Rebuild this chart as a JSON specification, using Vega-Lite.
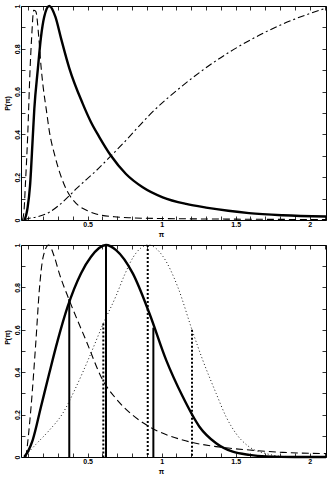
{
  "$schema": "https://vega.github.io/schema/vega-lite/v6.json",
  "padding": {"left": 2, "top": 0, "right": 3, "bottom": 0},
  "background": "white",
  "datasets": {
    "top": [
      {"s": "a", "x": 0.07, "v": 0.0}, {"s": "a", "x": 0.079, "v": 0.01}, {"s": "a", "x": 0.095, "v": 0.06}, {"s": "a", "x": 0.111, "v": 0.16}, {"s": "a", "x": 0.129, "v": 0.38}, {"s": "a", "x": 0.14, "v": 0.52}, {"s": "a", "x": 0.163, "v": 0.70}, {"s": "a", "x": 0.185, "v": 0.855}, {"s": "a", "x": 0.207, "v": 0.95}, {"s": "a", "x": 0.241, "v": 1.0}, {"s": "a", "x": 0.282, "v": 0.95}, {"s": "a", "x": 0.32, "v": 0.85}, {"s": "a", "x": 0.376, "v": 0.71}, {"s": "a", "x": 0.466, "v": 0.545}, {"s": "a", "x": 0.523, "v": 0.457}, {"s": "a", "x": 0.577, "v": 0.39}, {"s": "a", "x": 0.658, "v": 0.30}, {"s": "a", "x": 0.759, "v": 0.215}, {"s": "a", "x": 0.872, "v": 0.153}, {"s": "a", "x": 1.007, "v": 0.106}, {"s": "a", "x": 1.165, "v": 0.075}, {"s": "a", "x": 1.3, "v": 0.058}, {"s": "a", "x": 1.45, "v": 0.043}, {"s": "a", "x": 1.59, "v": 0.032}, {"s": "a", "x": 1.818, "v": 0.022}, {"s": "a", "x": 2.11, "v": 0.016},
      {"s": "b", "x": 0.06, "v": 0.0}, {"s": "b", "x": 0.07, "v": 0.04}, {"s": "b", "x": 0.08, "v": 0.17}, {"s": "b", "x": 0.095, "v": 0.39}, {"s": "b", "x": 0.111, "v": 0.70}, {"s": "b", "x": 0.122, "v": 0.855}, {"s": "b", "x": 0.136, "v": 0.98}, {"s": "b", "x": 0.15, "v": 0.975}, {"s": "b", "x": 0.17, "v": 0.855}, {"s": "b", "x": 0.185, "v": 0.72}, {"s": "b", "x": 0.2, "v": 0.62}, {"s": "b", "x": 0.219, "v": 0.525}, {"s": "b", "x": 0.245, "v": 0.40}, {"s": "b", "x": 0.275, "v": 0.31}, {"s": "b", "x": 0.31, "v": 0.225}, {"s": "b", "x": 0.345, "v": 0.16}, {"s": "b", "x": 0.376, "v": 0.118}, {"s": "b", "x": 0.422, "v": 0.078}, {"s": "b", "x": 0.511, "v": 0.04}, {"s": "b", "x": 0.557, "v": 0.028}, {"s": "b", "x": 0.68, "v": 0.015}, {"s": "b", "x": 0.8, "v": 0.01}, {"s": "b", "x": 1.0, "v": 0.007}, {"s": "b", "x": 1.5, "v": 0.004}, {"s": "b", "x": 2.11, "v": 0.002},
      {"s": "c", "x": 0.07, "v": 0.0}, {"s": "c", "x": 0.084, "v": 0.004}, {"s": "c", "x": 0.16, "v": 0.015}, {"s": "c", "x": 0.241, "v": 0.036}, {"s": "c", "x": 0.3, "v": 0.065}, {"s": "c", "x": 0.376, "v": 0.113}, {"s": "c", "x": 0.422, "v": 0.145}, {"s": "c", "x": 0.557, "v": 0.23}, {"s": "c", "x": 0.658, "v": 0.30}, {"s": "c", "x": 0.759, "v": 0.372}, {"s": "c", "x": 0.849, "v": 0.44}, {"s": "c", "x": 0.917, "v": 0.49}, {"s": "c", "x": 1.142, "v": 0.628}, {"s": "c", "x": 1.367, "v": 0.744}, {"s": "c", "x": 1.59, "v": 0.838}, {"s": "c", "x": 1.818, "v": 0.916}, {"s": "c", "x": 2.11, "v": 0.99}
    ],
    "bottom": [
      {"s": "a", "x": 0.072, "v": 0.0}, {"s": "a", "x": 0.1, "v": 0.03}, {"s": "a", "x": 0.129, "v": 0.08}, {"s": "a", "x": 0.185, "v": 0.237}, {"s": "a", "x": 0.241, "v": 0.395}, {"s": "a", "x": 0.298, "v": 0.55}, {"s": "a", "x": 0.365, "v": 0.709}, {"s": "a", "x": 0.455, "v": 0.866}, {"s": "a", "x": 0.523, "v": 0.945}, {"s": "a", "x": 0.624, "v": 1.0}, {"s": "a", "x": 0.692, "v": 0.976}, {"s": "a", "x": 0.805, "v": 0.866}, {"s": "a", "x": 0.917, "v": 0.678}, {"s": "a", "x": 1.03, "v": 0.458}, {"s": "a", "x": 1.142, "v": 0.285}, {"s": "a", "x": 1.255, "v": 0.143}, {"s": "a", "x": 1.368, "v": 0.065}, {"s": "a", "x": 1.48, "v": 0.025}, {"s": "a", "x": 1.593, "v": 0.01}, {"s": "a", "x": 1.706, "v": 0.003}, {"s": "a", "x": 1.9, "v": 0.0}, {"s": "a", "x": 2.11, "v": 0.0},
      {"s": "b", "x": 0.084, "v": 0.0}, {"s": "b", "x": 0.1, "v": 0.1}, {"s": "b", "x": 0.118, "v": 0.237}, {"s": "b", "x": 0.151, "v": 0.55}, {"s": "b", "x": 0.174, "v": 0.79}, {"s": "b", "x": 0.2, "v": 0.945}, {"s": "b", "x": 0.237, "v": 1.0}, {"s": "b", "x": 0.275, "v": 0.945}, {"s": "b", "x": 0.309, "v": 0.865}, {"s": "b", "x": 0.376, "v": 0.74}, {"s": "b", "x": 0.489, "v": 0.55}, {"s": "b", "x": 0.602, "v": 0.363}, {"s": "b", "x": 0.692, "v": 0.275}, {"s": "b", "x": 0.8, "v": 0.2}, {"s": "b", "x": 0.917, "v": 0.143}, {"s": "b", "x": 1.142, "v": 0.08}, {"s": "b", "x": 1.368, "v": 0.049}, {"s": "b", "x": 1.593, "v": 0.033}, {"s": "b", "x": 1.818, "v": 0.022}, {"s": "b", "x": 2.11, "v": 0.016},
      {"s": "d", "x": 0.084, "v": 0.01}, {"s": "d", "x": 0.151, "v": 0.06}, {"s": "d", "x": 0.241, "v": 0.126}, {"s": "d", "x": 0.331, "v": 0.205}, {"s": "d", "x": 0.422, "v": 0.33}, {"s": "d", "x": 0.512, "v": 0.472}, {"s": "d", "x": 0.606, "v": 0.63}, {"s": "d", "x": 0.692, "v": 0.76}, {"s": "d", "x": 0.75, "v": 0.86}, {"s": "d", "x": 0.81, "v": 0.945}, {"s": "d", "x": 0.91, "v": 1.0}, {"s": "d", "x": 1.01, "v": 0.945}, {"s": "d", "x": 1.11, "v": 0.8}, {"s": "d", "x": 1.205, "v": 0.6}, {"s": "d", "x": 1.277, "v": 0.458}, {"s": "d", "x": 1.368, "v": 0.3}, {"s": "d", "x": 1.435, "v": 0.19}, {"s": "d", "x": 1.503, "v": 0.11}, {"s": "d", "x": 1.593, "v": 0.047}, {"s": "d", "x": 1.706, "v": 0.016}, {"s": "d", "x": 1.818, "v": 0.003}, {"s": "d", "x": 2.11, "v": 0.0}
    ],
    "rules": [
      {"k": "solid", "x": 0.376, "v": 0.745}, {"k": "solid", "x": 0.624, "v": 1.0}, {"k": "solid", "x": 0.944, "v": 0.61},
      {"k": "dot", "x": 0.606, "v": 0.63}, {"k": "dot", "x": 0.906, "v": 1.0}, {"k": "dot", "x": 1.205, "v": 0.6}
    ]
  },
  "config": {
    "view": {"stroke": "black", "strokeWidth": 1},
    "font": "Liberation Sans",
    "axis": {
      "domain": false, "grid": false, "ticks": true, "tickColor": "black", "tickSize": -4, "tickWidth": 0.8,
      "labelFont": "Liberation Sans", "labelFontSize": 7, "labelFontWeight": "bold", "labelColor": "black", "labelOverlap": false, "labelFlush": false,
      "titleFont": "Liberation Sans", "titleFontSize": 7, "titleFontWeight": "bold", "titleColor": "black"
    },
    "line": {"color": "black", "interpolate": "monotone"}
  },
  "spacing": 1,
  "vconcat": [
    {
      "width": 305, "height": 214,
      "data": {"name": "top"},
      "resolve": {"axis": {"x": "independent", "y": "independent"}},
      "layer": [
        {
          "transform": [{"filter": "datum.s === 'c'"}],
          "mark": {"type": "line", "strokeWidth": 1.1, "strokeDash": [7, 3, 2, 3]},
          "encoding": {
            "x": {"field": "x", "type": "quantitative", "scale": {"domain": [0.05, 2.11], "nice": false, "zero": false},
              "axis": {"orient": "bottom", "title": "π", "values": [0.1,0.2,0.3,0.4,0.5,0.6,0.7,0.8,0.9,1,1.1,1.2,1.3,1.4,1.5,1.6,1.7,1.8,1.9,2,2.1],
                "labelExpr": "indexof([5,10,15,20], round(datum.value*10)) >= 0 ? toString(round(datum.value*10)/10) : ''",
                "labelPadding": 4, "titlePadding": 3, "titleX": 140}},
            "y": {"field": "v", "type": "quantitative", "scale": {"domain": [0, 1], "nice": false},
              "axis": {"orient": "left", "title": "P(π)", "values": [0,0.1,0.2,0.3,0.4,0.5,0.6,0.7,0.8,0.9,1],
                "labelExpr": "indexof([0,2,4,6,8,10], round(datum.value*10)) >= 0 ? toString(round(datum.value*10)/10) : ''",
                "labelAngle": 270, "labelAlign": "center", "labelBaseline": "bottom", "labelPadding": 5, "titlePadding": 3, "titleY": 97}}
          }
        },
        {
          "transform": [{"filter": "datum.s === 'b'"}],
          "mark": {"type": "line", "strokeWidth": 1.1, "strokeDash": [7, 4]},
          "encoding": {
            "x": {"field": "x", "type": "quantitative", "axis": {"orient": "top", "labels": false, "title": null, "labelPadding": 0, "minExtent": 0, "maxExtent": 0, "values": [0.1,0.2,0.3,0.4,0.5,0.6,0.7,0.8,0.9,1,1.1,1.2,1.3,1.4,1.5,1.6,1.7,1.8,1.9,2,2.1]}},
            "y": {"field": "v", "type": "quantitative", "axis": {"orient": "right", "labels": false, "title": null, "labelPadding": 0, "minExtent": 0, "maxExtent": 0, "values": [0,0.1,0.2,0.3,0.4,0.5,0.6,0.7,0.8,0.9,1]}}
          }
        },
        {
          "transform": [{"filter": "datum.s === 'a'"}],
          "mark": {"type": "line", "strokeWidth": 2.4},
          "encoding": {
            "x": {"field": "x", "type": "quantitative", "axis": null},
            "y": {"field": "v", "type": "quantitative", "axis": null}
          }
        }
      ]
    },
    {
      "width": 305, "height": 212,
      "resolve": {"axis": {"x": "independent", "y": "independent"}},
      "layer": [
        {
          "data": {"name": "bottom"},
          "transform": [{"filter": "datum.s === 'd'"}],
          "mark": {"type": "line", "strokeWidth": 0.9, "strokeDash": [1, 2.5]},
          "encoding": {
            "x": {"field": "x", "type": "quantitative", "scale": {"domain": [0.05, 2.11], "nice": false, "zero": false},
              "axis": {"orient": "bottom", "title": "π", "values": [0.1,0.2,0.3,0.4,0.5,0.6,0.7,0.8,0.9,1,1.1,1.2,1.3,1.4,1.5,1.6,1.7,1.8,1.9,2,2.1],
                "labelExpr": "indexof([5,10,15,20], round(datum.value*10)) >= 0 ? toString(round(datum.value*10)/10) : ''",
                "labelPadding": 4, "titlePadding": 3, "titleX": 140}},
            "y": {"field": "v", "type": "quantitative", "scale": {"domain": [0, 1], "nice": false},
              "axis": {"orient": "left", "title": "P(π)", "values": [0,0.1,0.2,0.3,0.4,0.5,0.6,0.7,0.8,0.9,1],
                "labelExpr": "indexof([0,2,4,6,8,10], round(datum.value*10)) >= 0 ? toString(round(datum.value*10)/10) : ''",
                "labelAngle": 270, "labelAlign": "center", "labelBaseline": "bottom", "labelPadding": 5, "titlePadding": 3, "titleY": 92}}
          }
        },
        {
          "data": {"name": "bottom"},
          "transform": [{"filter": "datum.s === 'b'"}],
          "mark": {"type": "line", "strokeWidth": 1.1, "strokeDash": [7, 4]},
          "encoding": {
            "x": {"field": "x", "type": "quantitative", "axis": {"orient": "top", "labels": false, "title": null, "labelPadding": 0, "minExtent": 0, "maxExtent": 0, "values": [0.1,0.2,0.3,0.4,0.5,0.6,0.7,0.8,0.9,1,1.1,1.2,1.3,1.4,1.5,1.6,1.7,1.8,1.9,2,2.1]}},
            "y": {"field": "v", "type": "quantitative", "axis": {"orient": "right", "labels": false, "title": null, "labelPadding": 0, "minExtent": 0, "maxExtent": 0, "values": [0,0.1,0.2,0.3,0.4,0.5,0.6,0.7,0.8,0.9,1]}}
          }
        },
        {
          "data": {"name": "bottom"},
          "transform": [{"filter": "datum.s === 'a'"}],
          "mark": {"type": "line", "strokeWidth": 2.4},
          "encoding": {
            "x": {"field": "x", "type": "quantitative", "axis": null},
            "y": {"field": "v", "type": "quantitative", "axis": null}
          }
        },
        {
          "data": {"name": "rules"},
          "transform": [{"filter": "datum.k === 'solid'"}],
          "mark": {"type": "rule", "strokeWidth": 2, "color": "black"},
          "encoding": {
            "x": {"field": "x", "type": "quantitative", "axis": null},
            "y": {"field": "v", "type": "quantitative", "axis": null},
            "y2": {"datum": 0}
          }
        },
        {
          "data": {"name": "rules"},
          "transform": [{"filter": "datum.k === 'dot'"}],
          "mark": {"type": "rule", "strokeWidth": 2, "strokeDash": [2, 2], "color": "black"},
          "encoding": {
            "x": {"field": "x", "type": "quantitative", "axis": null},
            "y": {"field": "v", "type": "quantitative", "axis": null},
            "y2": {"datum": 0}
          }
        }
      ]
    }
  ]
}
